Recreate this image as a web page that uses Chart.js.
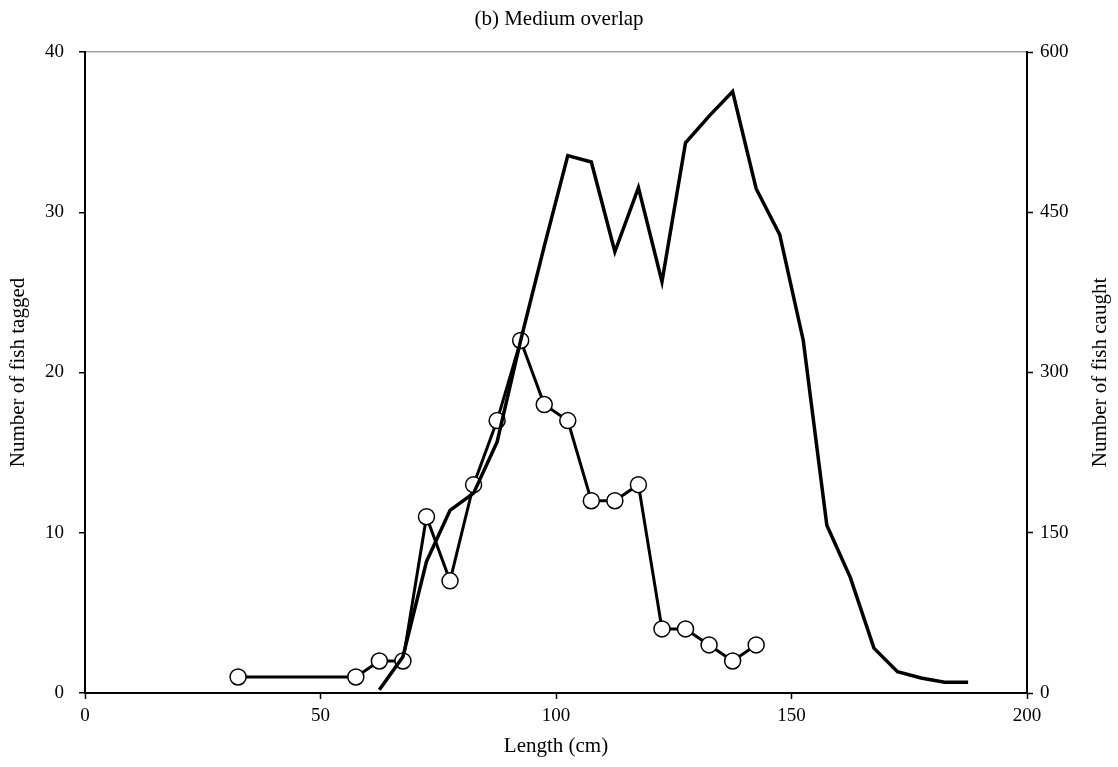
<!DOCTYPE html>
<html>
<head>
<meta charset="utf-8">
<script src="https://cdn.jsdelivr.net/npm/chart.js@4"></script>
<style>
  html, body { margin: 0; padding: 0; background: #fff; }
  canvas { display: block; }
</style>
</head>
<body>
<canvas id="chart" width="1118" height="767"></canvas>
<script>
// length class midpoints (cm) and counts per class
const taggedLengths = [32.5, 57.5, 62.5, 67.5, 72.5, 77.5, 82.5, 87.5, 92.5, 97.5, 102.5, 107.5, 112.5, 117.5, 122.5, 127.5, 132.5, 137.5, 142.5]
const taggedCounts = [1, 1, 2, 2, 11, 7, 13, 17, 22, 18, 17, 12, 12, 13, 4, 4, 3, 2, 3]

const caughtLengths = [62.5, 67.5, 72.5, 77.5, 82.5, 87.5, 92.5, 97.5, 102.5, 107.5, 112.5, 117.5, 122.5, 127.5, 132.5, 137.5, 142.5, 147.5, 152.5, 157.5, 162.5, 167.5, 172.5, 177.5, 182.5, 187.5]
const caughtCounts = [3, 34, 123, 171, 187, 235, 330, 418, 503, 497, 413, 473, 385, 515, 540, 563, 472, 429, 330, 157, 108, 42, 20, 14, 10, 10]

const lengthTicks = [0, 50, 100, 150, 200]
const taggedTicks = [0, 10, 20, 30, 40]
const caughtTicks = [0, 150, 300, 450, 600]

const fontFamily = "'Liberation Serif', 'Times New Roman', serif"
Chart.defaults.font.family = fontFamily
Chart.defaults.font.size = 19
Chart.defaults.color = '#000'

const titleFont = { size: 21 }

const toPoints = (xs, ys) => xs.map((x, i) => ({ x, y: ys[i] }))

const fixedTicks = (values) => (scale) => {
  scale.ticks = values.map((value) => ({ value }))
}

// right axis title reads bottom-to-top like the left one, so draw it by hand
const rightTitle = {
  id: 'rightTitle',
  afterDraw(chart) {
    const { ctx, chartArea } = chart
    ctx.save()
    ctx.translate(1100, (chartArea.top + chartArea.bottom) / 2)
    ctx.rotate(-Math.PI / 2)
    ctx.font = `21px ${fontFamily}`
    ctx.fillStyle = '#000'
    ctx.textAlign = 'center'
    ctx.textBaseline = 'middle'
    ctx.fillText('Number of fish caught', 0, 0)
    ctx.restore()
  },
}

const config = {
  type: 'line',
  data: {
    datasets: [
      {
        label: 'Number of fish caught',
        data: toPoints(caughtLengths, caughtCounts),
        yAxisID: 'y2',
        borderColor: '#000',
        borderWidth: 3.5,
        pointRadius: 0,
        tension: 0,
        order: 0,
      },
      {
        label: 'Number of fish tagged',
        data: toPoints(taggedLengths, taggedCounts),
        yAxisID: 'y',
        borderColor: '#000',
        borderWidth: 3,
        pointRadius: 8,
        pointBackgroundColor: '#fff',
        pointBorderColor: '#000',
        pointBorderWidth: 1.5,
        tension: 0,
        order: 1,
      },
    ],
  },
  options: {
    responsive: false,
    animation: false,
    layout: { padding: 0 },
    scales: {
      x: {
        type: 'linear',
        min: 0,
        max: 200,
        afterBuildTicks: fixedTicks(lengthTicks),
        afterFit: (scale) => { scale.height = 74 },
        border: { display: true, color: '#000', width: 2 },
        grid: { color: 'transparent', tickColor: '#000', tickLength: 6, tickWidth: 1.5 },
        ticks: { padding: 6, maxRotation: 0 },
        title: { display: true, text: 'Length (cm)', font: titleFont, padding: { top: 0, bottom: 8 } },
      },
      y: {
        type: 'linear',
        position: 'left',
        min: 0,
        max: 40,
        afterBuildTicks: fixedTicks(taggedTicks),
        afterFit: (scale) => { scale.width = 85 },
        border: { display: true, color: '#000', width: 2 },
        grid: {
          color: (ctx) => ctx.tick && ctx.tick.value === 40 ? '#a0a0a0' : 'transparent',
          lineWidth: 1.5,
          tickColor: '#000',
          tickLength: 6,
          tickWidth: 1.5,
        },
        ticks: { padding: 15 },
        title: { display: true, text: 'Number of fish tagged', font: titleFont, padding: { top: 6, bottom: 0 } },
      },
      y2: {
        type: 'linear',
        position: 'right',
        min: 0,
        max: 600,
        afterBuildTicks: fixedTicks(caughtTicks),
        afterFit: (scale) => { scale.width = 91 },
        border: { display: true, color: '#000', width: 2 },
        grid: { drawOnChartArea: false, tickColor: '#000', tickLength: 6, tickWidth: 1.5 },
        ticks: { padding: 7 },
      },
    },
    plugins: {
      legend: { display: false },
      tooltip: { enabled: false },
      title: {
        display: true,
        text: '(b) Medium overlap',
        font: { size: 21, weight: 'normal' },
        padding: { top: 7, bottom: 19.8 },
      },
    },
  },
  plugins: [rightTitle],
}

new Chart(document.getElementById('chart'), config)
</script>
</body>
</html>
